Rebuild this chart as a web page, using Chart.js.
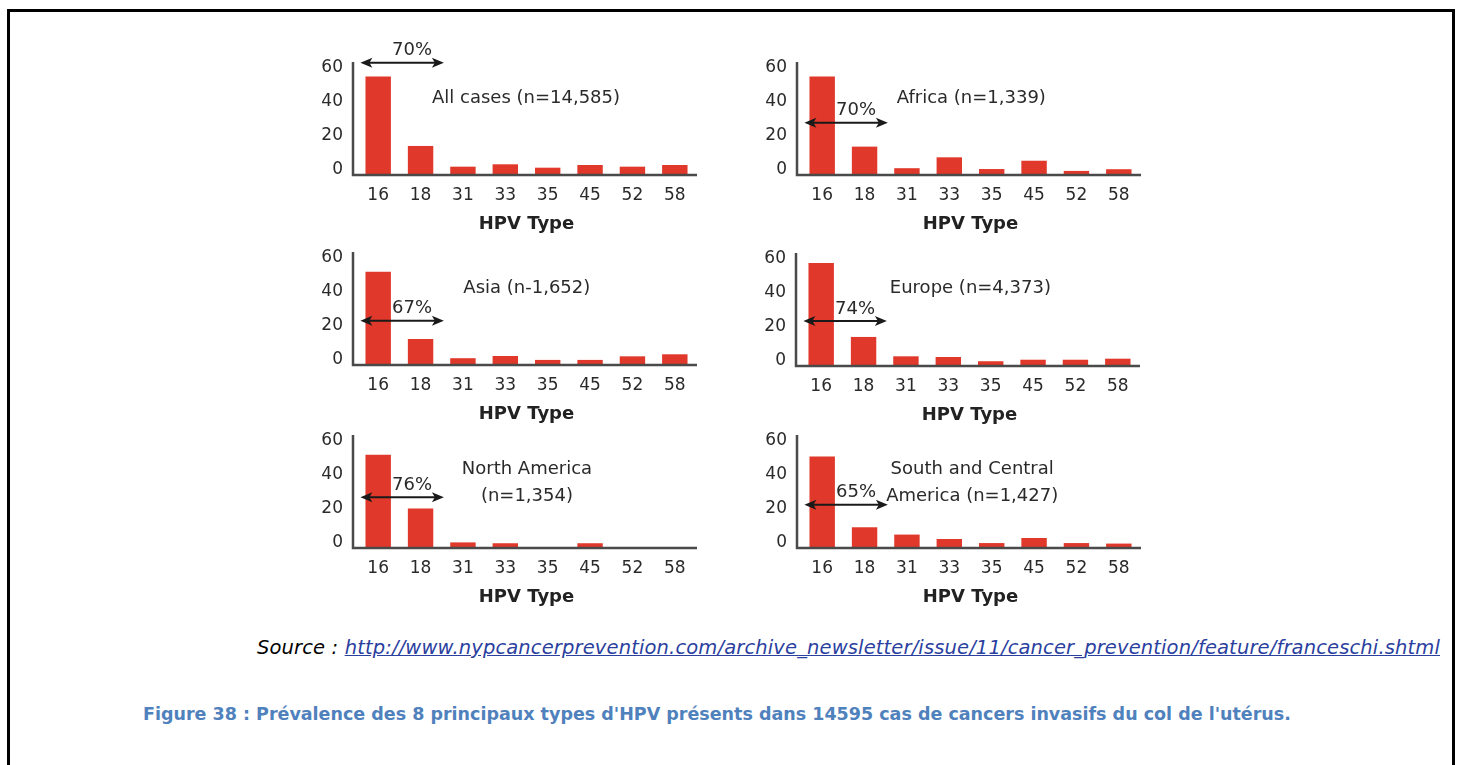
<!DOCTYPE html>
<html>
<head>
<meta charset="utf-8">
<script src="https://cdn.jsdelivr.net/npm/chart.js@4.4.1/dist/chart.umd.min.js"></script>
<style>
  body { margin: 0; background: #fff; width: 1460px; height: 765px; overflow: hidden; position: relative; }
  .frame { position: absolute; left: 7px; top: 9px; width: 1442px; height: 800px; border: 3px solid #000; }
  .panel { position: absolute; }
  .source { position: absolute; right: 20px; top: 636px; font-family: "DejaVu Sans", sans-serif; font-style: italic; font-size: 19.5px; letter-spacing: 0.14px; color: #000; white-space: nowrap; }
  .source a { color: #2b3f9f; text-decoration: underline; }
  .caption { position: absolute; left: 143px; top: 704px; font-family: "DejaVu Sans", sans-serif; font-weight: bold; font-size: 17.5px; color: #4f81bd; white-space: nowrap; }
</style>
</head>
<body>
<div class="frame"></div>
<div id="panels"></div>
<div class="source">Source : <a>http://www.nypcancerprevention.com/archive_newsletter/issue/11/cancer_prevention/feature/franceschi.shtml</a></div>
<div class="caption">Figure 38 : Prévalence des 8 principaux types d'HPV présents dans 14595 cas de cancers invasifs du col de l'utérus.</div>
<script>
// HPV types on the x axis and the y tick values
const hpvTypes = ['16', '18', '31', '33', '35', '45', '52', '58'];
const yTicks = [0, 20, 40, 60];

// Prevalence (%) by region
const allCases = [57.9, 17.1, 4.9, 6.3, 4.3, 5.9, 4.9, 5.9];
const africa = [57.9, 16.7, 4.0, 10.4, 3.5, 8.4, 2.4, 3.4];
const asia = [54.9, 15.3, 4.0, 5.3, 3.0, 3.0, 5.1, 6.3];
const europe = [60.6, 17.1, 5.7, 5.3, 2.8, 3.7, 3.7, 4.3];
const northAmerica = [54.9, 23.2, 3.3, 2.8, 0, 2.8, 0, 0];
const southCentralAmerica = [53.9, 12.2, 7.9, 5.3, 2.9, 5.9, 2.9, 2.6];

// Share covered by HPV 16 + 18
const coverage = ['70%', '70%', '67%', '74%', '76%', '65%'];
const regionNames = [
    ['All cases (n=14,585)'],
    ['Africa (n=1,339)'],
    ['Asia (n-1,652)'],
    ['Europe (n=4,373)'],
    ['North America', '(n=1,354)'],
    ['South and Central', 'America (n=1,427)']
];
const regionSeries = [allCases, africa, asia, europe, northAmerica, southCentralAmerica];

// Where each small chart sits on the page, and where its notes go
const panelLayout = [
    { axisX: 352.7, baseline: 175.0, arrowY: 66.1, label: { x: 1.27, y: 45.1, align: 'left' } },
    { axisX: 796.7, baseline: 175.0, arrowY: 30.8, label: { x: 1.76, y: 45.1, align: 'left' } },
    { axisX: 352.7, baseline: 365.0, arrowY: 26.0, label: { x: 2.01, y: 45.1, align: 'left' } },
    { axisX: 796.0, baseline: 365.7, arrowY: 26.5, label: { x: 1.62, y: 45.6, align: 'left' } },
    { axisX: 352.7, baseline: 548.3, arrowY: 29.8, label: { x: 3.51, y: 46.1, align: 'center' } },
    { axisX: 796.7, baseline: 548.3, arrowY: 25.5, label: { x: 3.54, y: 46.1, align: 'center' } }
];

const PLOT_H = 113;
const PAD_TOP = 30;
const Y_AXIS_W = 64;
const X_AXIS_H = 65;
const CANVAS_W = 418;
const TEXT = '#2a2a2a';
const FONT = '"DejaVu Sans", sans-serif';

// L-shaped axis drawn just left of the first bar slot
const axisLines = {
    id: 'axisLines',
    afterDatasetsDraw(chart) {
        const { ctx, chartArea: a } = chart;
        ctx.save();
        ctx.strokeStyle = '#4a4a4a';
        ctx.lineWidth = 2.5;
        ctx.beginPath();
        ctx.moveTo(a.left - 4, a.top);
        ctx.lineTo(a.left - 4, a.bottom);
        ctx.lineTo(a.right + 1, a.bottom);
        ctx.stroke();
        ctx.restore();
    }
};

function arrowHead(ctx, x, y, dir) {
    ctx.beginPath();
    ctx.moveTo(x, y);
    ctx.lineTo(x - dir * 12, y - 5);
    ctx.lineTo(x - dir * 9, y);
    ctx.lineTo(x - dir * 12, y + 5);
    ctx.closePath();
    ctx.fill();
}

// Double arrow with the 16+18 share, plus the region name
const regionNotes = {
    id: 'regionNotes',
    afterDraw(chart, args, opts) {
        const { ctx, scales: { x, y } } = chart;
        const x1 = x.getPixelForValue(-0.42);
        const x2 = x.getPixelForValue(1.55);
        const ay = y.getPixelForValue(opts.arrowY);
        ctx.save();
        ctx.strokeStyle = '#1a1a1a';
        ctx.fillStyle = '#1a1a1a';
        ctx.lineWidth = 2;
        ctx.beginPath();
        ctx.moveTo(x1 + 6, ay);
        ctx.lineTo(x2 - 6, ay);
        ctx.stroke();
        arrowHead(ctx, x1, ay, -1);
        arrowHead(ctx, x2, ay, 1);

        ctx.fillStyle = TEXT;
        ctx.font = '18px ' + FONT;
        ctx.textAlign = 'center';
        ctx.textBaseline = 'middle';
        ctx.fillText(opts.pct, x.getPixelForValue(0.8), ay - 12);

        ctx.textAlign = opts.label.align;
        const lx = x.getPixelForValue(opts.label.x);
        let ly = y.getPixelForValue(opts.label.y);
        opts.lines.forEach(line => {
            ctx.fillText(line, lx, ly);
            ly += 26.5;
        });
        ctx.restore();
    }
};

function buildPanel(i) {
    const p = panelLayout[i];
    const canvas = document.createElement('canvas');
    canvas.className = 'panel';
    canvas.width = CANVAS_W;
    canvas.height = PAD_TOP + PLOT_H + X_AXIS_H;
    canvas.style.left = (p.axisX - 60) + 'px';
    canvas.style.top = (p.baseline - PLOT_H - PAD_TOP) + 'px';
    document.getElementById('panels').appendChild(canvas);

    new Chart(canvas, {
        type: 'bar',
        data: {
            labels: hpvTypes,
            datasets: [{
                data: regionSeries[i],
                backgroundColor: '#e0382a',
                barPercentage: 0.6,
                categoryPercentage: 1.0
            }]
        },
        options: {
            responsive: false,
            animation: false,
            events: [],
            layout: { padding: { top: PAD_TOP, right: 15, left: 0, bottom: 0 } },
            plugins: {
                legend: { display: false },
                tooltip: { enabled: false },
                regionNotes: {
                    arrowY: p.arrowY,
                    pct: coverage[i],
                    lines: regionNames[i],
                    label: p.label
                }
            },
            scales: {
                x: {
                    grid: { display: false, drawTicks: false },
                    border: { display: false },
                    ticks: { color: TEXT, font: { family: FONT, size: 17 }, padding: 10, maxRotation: 0, autoSkip: false },
                    title: {
                        display: true,
                        text: 'HPV Type',
                        color: '#222',
                        font: { family: FONT, size: 18, weight: 'bold' },
                        padding: { top: 0, bottom: 5 }
                    },
                    afterFit: s => { s.height = X_AXIS_H; }
                },
                y: {
                    min: 0,
                    max: 66.5,
                    grid: { display: false, drawTicks: false },
                    border: { display: false },
                    afterBuildTicks: s => { s.ticks = yTicks.map(v => ({ value: v })); },
                    ticks: { color: TEXT, font: { family: FONT, size: 17 }, padding: 14, labelOffset: -5 },
                    afterFit: s => { s.width = Y_AXIS_W; }
                }
            }
        },
        plugins: [axisLines, regionNotes]
    });
}

for (let i = 0; i < panelLayout.length; i++) buildPanel(i);
</script>
</body>
</html>
